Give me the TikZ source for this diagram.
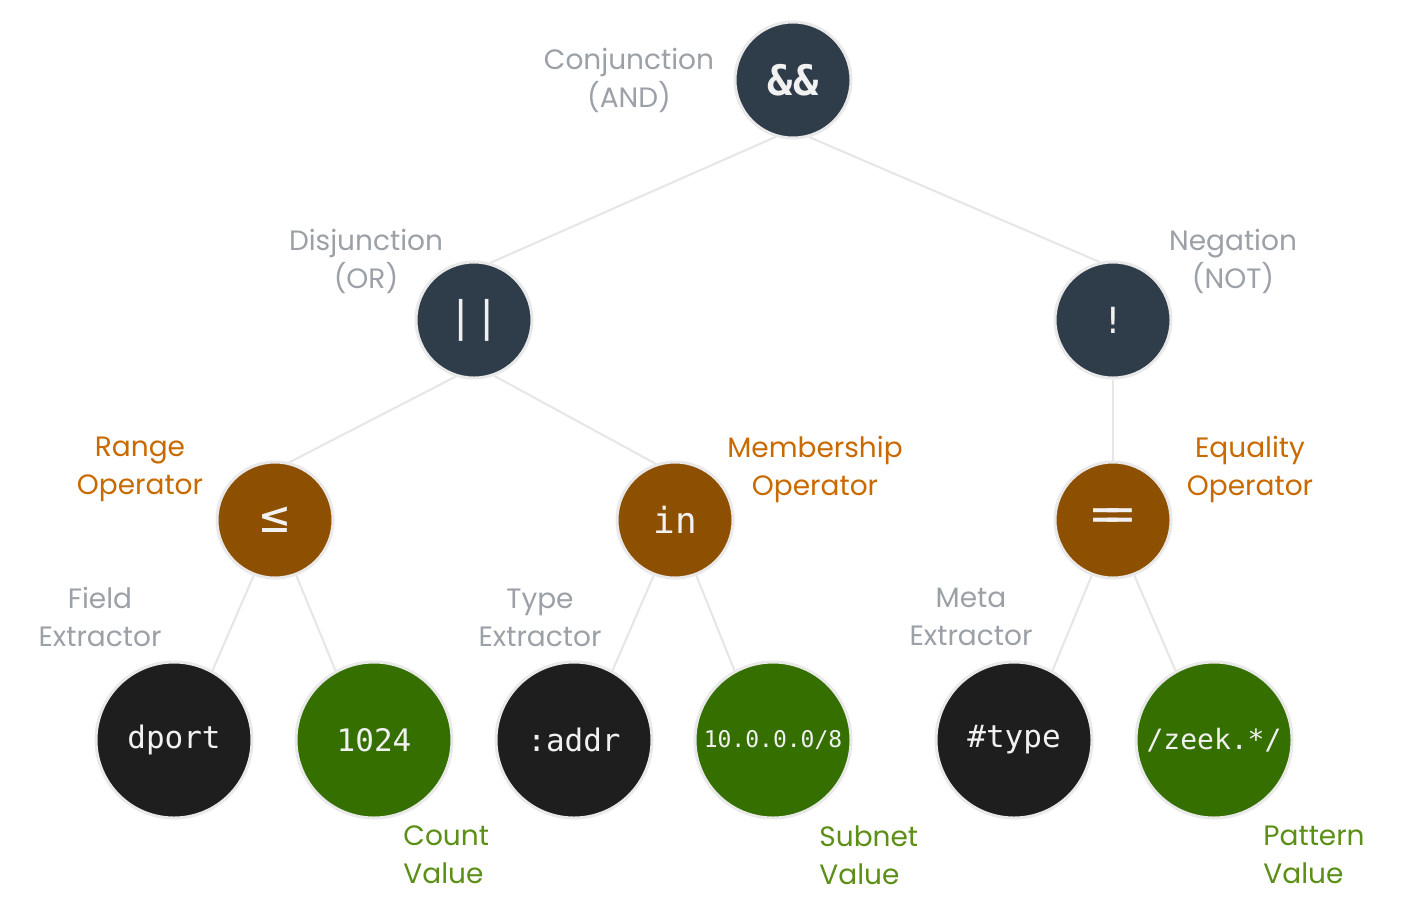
\documentclass[tikz,border=0pt]{standalone}
\usepackage{fontspec}
\usetikzlibrary{backgrounds}
\newfontfamily\lblfont{Poppins}
\newfontfamily\codefont{DejaVu Sans Mono}
\definecolor{slate}{HTML}{2F3D4A}
\definecolor{brownop}{HTML}{8C5000}
\definecolor{blackleaf}{HTML}{1E1E1E}
\definecolor{greenleaf}{HTML}{346F00}
\definecolor{ring}{HTML}{E9E9E9}
\definecolor{edgegray}{HTML}{E6E6E6}
\definecolor{lblgray}{HTML}{9CA1A8}
\definecolor{lblorange}{HTML}{C96A00}
\definecolor{lblgreen}{HTML}{5C8F16}
\definecolor{nodetext}{HTML}{F1F1F1}
\tikzset{
  opnode/.style={circle, minimum size=58pt, inner sep=0pt, draw=ring, line width=1.5pt,
    text=nodetext, font=\codefont\fontsize{18}{20}\selectfont},
  leafnode/.style={circle, minimum size=78pt, inner sep=0pt, draw=ring, line width=1.5pt,
    text=nodetext, font=\codefont\fontsize{15.5}{18}\selectfont},
  edgeline/.style={draw=edgegray, line width=1pt},
  lbl/.style={align=center, inner sep=0pt, font=\lblfont\fontsize{14}{19}\selectfont},
  lblleft/.style={align=left, anchor=west, inner sep=0pt, font=\lblfont\fontsize{14}{19}\selectfont}
}
\begin{document}
\begin{tikzpicture}[x=0.5pt,y=-0.5pt]
\useasboundingbox (0,0) rectangle (1407,916);
% nodes
\node[opnode, fill=slate, font=\codefont\bfseries\fontsize{21}{22}\selectfont] (and) at (793,80) {\&\&};
\node[opnode, fill=slate, font=\codefont\fontsize{21}{22}\selectfont] (or) at (474,320) {||};
\node[opnode, fill=slate] (not) at (1113,320) {!};
\node[opnode, fill=brownop, font=\codefont\fontsize{24}{24}\selectfont] (le) at (275,520) {≤};
\node[opnode, fill=brownop] (in) at (675,520) {in};
\node[opnode, fill=brownop, font=\codefont\fontsize{24}{24}\selectfont] (eq) at (1113,520) {={\kern-0.3em}=};
\node[leafnode, fill=blackleaf] (dport) at (174,740) {dport};
\node[leafnode, fill=greenleaf] (cnt) at (374,740) {1024};
\node[leafnode, fill=blackleaf] (addr) at (574,740) {:addr};
\node[leafnode, fill=greenleaf, font=\codefont\fontsize{11.5}{14}\selectfont] (net) at (773,740) {10.0.0.0/8};
\node[leafnode, fill=blackleaf] (typ) at (1014,740) {\#type};
\node[leafnode, fill=greenleaf, font=\codefont\fontsize{14}{18}\selectfont] (pat) at (1214,740) {/zeek.*/};
% edges
\begin{scope}[on background layer]
\fill[white] (0,0) rectangle (1407,916);
\draw[edgeline] (and.253) -- (or.74);
\draw[edgeline] (and.286) -- (not.103);
\draw[edgeline] (or.252) -- (le.76);
\draw[edgeline] (or.290) -- (in.109);
\draw[edgeline] (not.270) -- (eq.90);
\draw[edgeline] (le.249) -- (dport.61);
\draw[edgeline] (le.291) -- (cnt.119);
\draw[edgeline] (in.249) -- (addr.61);
\draw[edgeline] (in.291) -- (net.119);
\draw[edgeline] (eq.249) -- (typ.61);
\draw[edgeline] (eq.291) -- (pat.119);
\end{scope}
% labels
\node[lbl, text=lblgray] (l1) at (629,80) {Conjunction\\(AND)};
\node[lbl, text=lblgray] (l2) at (366,261) {Disjunction\\(OR)};
\node[lbl, text=lblgray] (l3) at (1233,261) {Negation\\(NOT)};
\node[lbl, text=lblorange] (l4) at (140,469) {Range\\Operator};
\node[lbl, text=lblorange] (l5) at (815,469) {Membership\\Operator};
\node[lbl, text=lblorange] (l6) at (1250,469) {Equality\\Operator};
\node[lbl, text=lblgray] (l7) at (100,617) {Field\\Extractor};
\node[lbl, text=lblgray] (l8) at (540,618) {Type\\Extractor};
\node[lbl, text=lblgray] (l9) at (971,617) {Meta\\Extractor};
\node[lblleft, text=lblgreen] (l10) at (403,855) {Count\\Value};
\node[lblleft, text=lblgreen] (l11) at (819,855) {Subnet\\Value};
\node[lblleft, text=lblgreen] (l12) at (1263,855) {Pattern\\Value};
\end{tikzpicture}
\end{document}
